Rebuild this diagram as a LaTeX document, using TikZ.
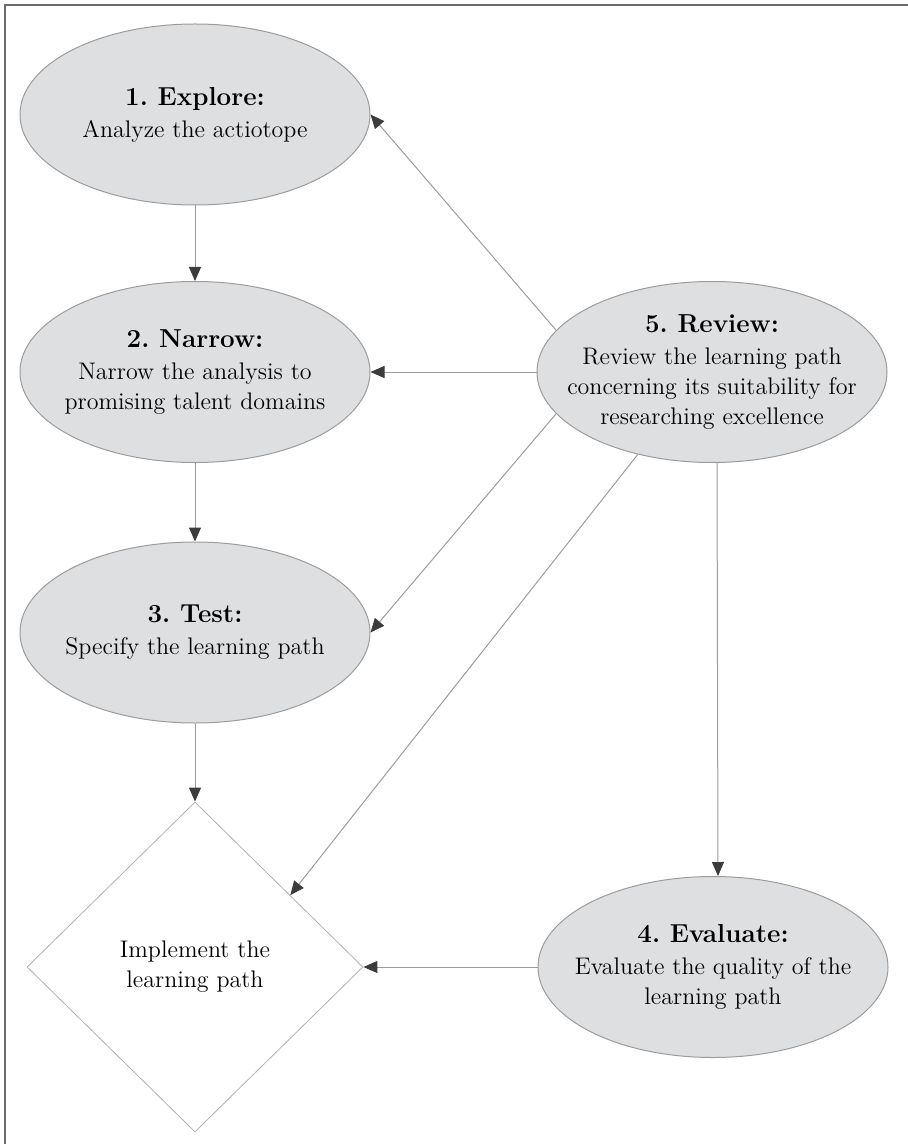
\documentclass[tikz,border=0pt]{standalone}
\usepackage{tikz}
\usetikzlibrary{arrows.meta,shapes.geometric}
\definecolor{stagefill}{HTML}{DEDFE1}
\definecolor{edgegray}{HTML}{9C9C9C}
\definecolor{tipgray}{HTML}{3C3C3E}
\definecolor{framegray}{HTML}{6B6B6B}
\frenchspacing
\newcommand{\stagetitle}[1]{{\fontsize{13}{15}\selectfont\bfseries #1}}
\tikzset{
  stage/.style  = {ellipse,draw=edgegray,fill=stagefill,line width=0.5pt,
                   minimum width=175pt,minimum height=90.5pt,
                   inner xsep=-15pt,inner ysep=0pt,align=center,
                   font=\fontsize{12}{15}\selectfont},
  actbox/.style = {diamond,draw=edgegray!80,line width=0.4pt,
                   minimum width=168pt,minimum height=165pt,inner sep=0pt,
                   align=center,font=\fontsize{12}{15}\selectfont},
  flow/.style   = {-{Triangle[length=7pt,width=6pt,color=tipgray]},
                   draw=edgegray,line width=0.5pt}
}

\begin{document}
\begin{tikzpicture}[x=0.5pt,y=-0.5pt]
  \useasboundingbox (0,0) rectangle (908,1144);
  \draw[framegray,line width=1pt] (5,1144) -- (5,5) -- (908,5);
  % phases on the left
  \node[stage]  (explore)   at (195,114.5) {\stagetitle{1. Explore:}\\[1pt] Analyze the actiotope};
  \node[stage]  (narrow)    at (195,372)   {\stagetitle{2. Narrow:}\\[1pt] Narrow the analysis to\\ promising talent domains};
  \node[stage]  (test)      at (195,632.5) {\stagetitle{3. Test:}\\[1pt] Specify the learning path};
  \node[actbox] (implement) at (195,967)   {Implement the\\ learning path};
  % phases on the right
  \node[stage]  (review)    at (712,372)   {\stagetitle{5. Review:}\\[1pt] Review the learning path\\ concerning its suitability for\\ researching excellence};
  \node[stage]  (evaluate)  at (713,967)   {\stagetitle{4. Evaluate:}\\[1pt] Evaluate the quality of the\\ learning path};
  % connectors
  \draw[flow] (explore) -- (narrow);
  \draw[flow] (narrow) -- (test);
  \draw[flow] (test) -- (implement);
  \draw[flow] (review.165) -- (explore.east);
  \draw[flow] (review) -- (narrow);
  \draw[flow] (review.195) -- (test.east);
  \draw[flow] (review.228) -- (implement.37);
  \draw[flow] ([xshift=2.5pt]review.south) -- ([xshift=2.5pt]evaluate.north);
  \draw[flow] (evaluate) -- (implement);
\end{tikzpicture}
\end{document}
